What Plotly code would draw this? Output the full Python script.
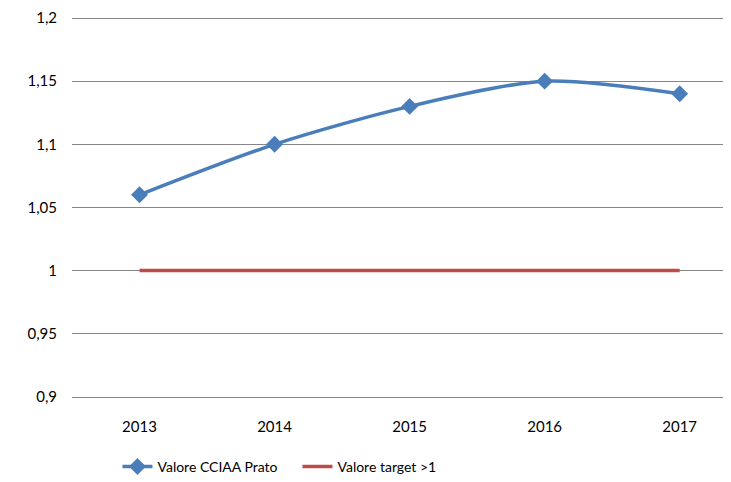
import plotly.graph_objects as go

years = ["2013", "2014", "2015", "2016", "2017"]
valore_cciaa = [1.06, 1.10, 1.13, 1.15, 1.14]
valore_target = [1, 1, 1, 1, 1]
y_ticks = [0.9, 0.95, 1, 1.05, 1.1, 1.15, 1.2]
y_tick_labels = ["0,9", "0,95", "1", "1,05", "1,1", "1,15", "1,2"]

font_family = "Lato, Liberation Sans, sans-serif"

fig = go.Figure()
fig.add_trace(go.Scatter(x=years, y=valore_cciaa, name="Valore CCIAA Prato",
                         mode="lines+markers",
                         line=dict(color="#4A7EBB", width=3.5, shape="spline", smoothing=0.8),
                         marker=dict(symbol="diamond", size=13, color="#4A7EBB")))
fig.add_trace(go.Scatter(x=years, y=valore_target, name="Valore target >1",
                         mode="lines",
                         line=dict(color="#BE4B48", width=3.5)))

fig.update_xaxes(type="category", range=[-0.5, 4.38], showgrid=False,
                 showline=True, linecolor="#868686", linewidth=1, mirror=False,
                 ticks="", ticklabelstandoff=16, automargin=False,
                 tickfont=dict(size=15, color="#000000"))
fig.update_yaxes(range=[0.8999, 1.2008], tickvals=y_ticks, ticktext=y_tick_labels,
                 showgrid=True, gridcolor="#868686", gridwidth=1,
                 zeroline=False, showline=False, ticks="",
                 ticklabelstandoff=14, automargin=False, ticklabeloverflow="allow",
                 tickfont=dict(size=15, color="#000000"))

# page body keeps an 8px margin, so the figure is 8px smaller than the window
fig.update_layout(template="simple_white",
                  width=723, height=474,
                  font=dict(family=font_family, size=15, color="#000000"),
                  margin=dict(l=64, r=0, t=9, b=85),
                  showlegend=True,
                  legend=dict(orientation="h", x=0.069, xanchor="left",
                              yref="container", y=0.032, yanchor="middle",
                              font=dict(size=14), itemwidth=30, entrywidth=135),
                  plot_bgcolor="white", paper_bgcolor="white")

fig.write_html("out.html")
